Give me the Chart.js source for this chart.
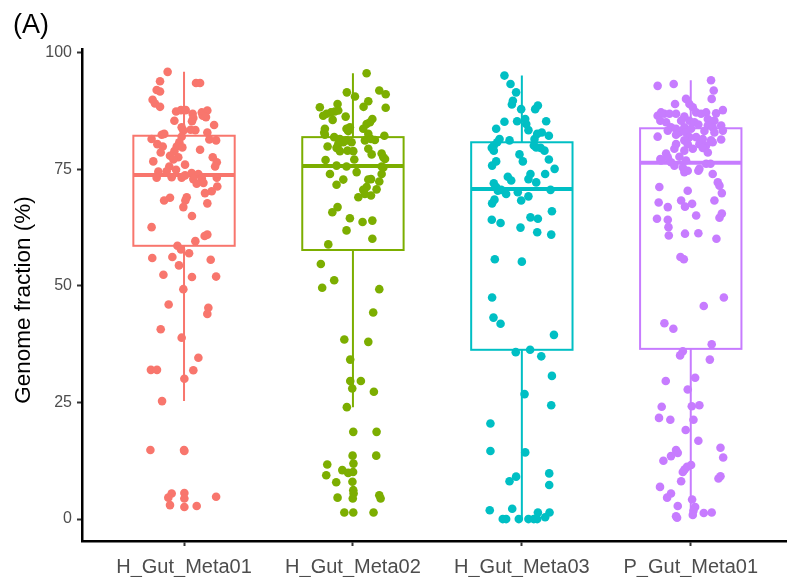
<!DOCTYPE html>
<html>
<head>
<meta charset="utf-8">
<script src="https://cdn.jsdelivr.net/npm/chart.js@4/dist/chart.umd.min.js"></script>
<style>
  html, body { margin: 0; padding: 0; background: #ffffff; }
  #wrap { width: 791px; height: 577px; }
</style>
</head>
<body>
<div id="wrap"><canvas id="chart" width="791" height="577"></canvas></div>
<script>
// Sample groups on the x axis
const categories = ['H_Gut_Meta01', 'H_Gut_Meta02', 'H_Gut_Meta03', 'P_Gut_Meta01'];
const groupColors = ['#F8766D', '#7CAE00', '#00BFC4', '#C77CFF'];
const yTicks = [0, 25, 50, 75, 100];
const yTitle = 'Genome fraction (%)';
const panelTag = '(A)';

// Box-plot summaries per group (genome fraction, %)
const whiskerLow  = [25.3, 24.0, 0.0, 0.3];
const quartile1   = [58.6, 57.7, 36.3, 36.5];
const medians     = [73.8, 75.7, 70.8, 76.4];
const quartile3   = [82.2, 81.9, 80.8, 83.8];
const whiskerHigh = [95.9, 95.6, 95.1, 94.1];

// Individual genome fractions and their horizontal jitter
const meta01Values = [95.9, 93.9, 93.5, 93.5, 92.0, 91.7, 89.9, 89.1, 88.4, 87.4,
  87.7, 87.7, 86.9, 87.2, 87.6, 86.5, 86.2, 85.4, 86.0, 85.3,
  84.0, 84.5, 83.5, 83.4, 83.3, 81.5, 82.4, 82.6, 82.0, 82.9,
  81.4, 81.2, 80.8, 80.4, 79.9, 79.7, 79.9, 79.2, 78.6, 78.9,
  77.9, 77.6, 77.6, 76.7, 77.1, 76.5, 75.6, 76.0, 75.6, 74.9,
  74.5, 74.6, 74.2, 74.0, 73.2, 73.3, 73.2, 72.9, 73.1, 73.2,
  71.9, 72.1, 73.7, 71.3, 70.3, 69.9, 68.9, 68.3, 69.0, 68.3,
  67.7, 66.9, 65.0, 62.6, 61.0, 60.7, 59.6, 58.6, 57.8, 57.0,
  56.0, 56.2, 55.6, 54.4, 52.4, 51.9, 52.0, 49.3, 46.0, 45.3,
  44.0, 40.7, 38.9, 34.6, 32.0, 32.0, 31.9, 30.1, 25.3, 14.8,
  14.8, 14.6, 5.5, 4.6, 3.0, 5.6, 4.4, 2.6, 2.8, 4.8];
const meta01Jitter = [-0.097, -0.142, 0.071, 0.095, -0.162, -0.142, -0.186, -0.172, -0.142, -0.047,
  -0.018, 0.010, 0.051, 0.105, 0.138, 0.111, 0.130, -0.057, 0.055, 0.047,
  -0.014, 0.178, 0.039, 0.067, -0.004, -0.192, -0.132, -0.117, -0.014, 0.138,
  0.150, 0.190, -0.028, -0.158, -0.043, -0.010, -0.126, 0.095, -0.138, -0.057,
  -0.083, -0.034, 0.170, -0.182, -0.063, 0.194, 0.184, 0.006, -0.087, -0.047,
  -0.152, -0.103, 0.045, 0.085, -0.162, -0.073, -0.014, 0.055, 0.105, 0.194,
  0.075, 0.115, 0.006, 0.197, 0.164, 0.124, -0.083, -0.118, 0.016, 0.008,
  0.138, -0.004, 0.047, -0.192, 0.138, 0.122, 0.067, -0.039, -0.018, 0.030,
  -0.188, -0.069, 0.158, -0.030, -0.122, 0.047, 0.190, -0.004, -0.091, 0.144,
  0.138, -0.138, -0.014, 0.085, -0.196, -0.160, 0.055, 0.002, -0.130, -0.199,
  0.000, 0.002, -0.073, -0.093, -0.083, 0.002, 0.002, 0.002, 0.075, 0.190];

const meta02Values = [95.6, 91.5, 90.6, 91.9, 91.1, 89.6, 88.4, 88.3, 89.0, 88.2,
  87.4, 87.2, 86.9, 86.5, 87.6, 86.3, 85.8, 85.1, 85.6, 84.7,
  84.0, 83.7, 83.7, 82.9, 83.7, 83.2, 82.6, 82.2, 81.9, 81.5,
  82.4, 81.2, 81.5, 81.3, 80.8, 81.2, 79.9, 80.4, 79.6, 80.8,
  78.9, 79.0, 78.9, 79.4, 78.2, 78.4, 77.6, 77.2, 77.0, 77.1,
  75.8, 75.6, 75.6, 74.0, 74.4, 75.4, 74.0, 72.8, 71.7, 72.8,
  72.9, 72.4, 71.2, 70.6, 70.7, 69.0, 69.7, 69.4, 66.9, 65.8,
  64.5, 63.7, 64.0, 61.9, 60.1, 58.9, 54.7, 51.2, 49.6, 49.3,
  44.3, 38.5, 38.0, 34.2, 29.6, 29.6, 28.0, 27.3, 24.0, 18.7,
  18.7, 13.6, 13.6, 11.7, 11.9, 9.4, 10.5, 9.9, 10.1, 7.9,
  8.0, 6.2, 4.6, 5.5, 4.4, 5.1, 4.4, 1.4, 1.4, 1.4];
const meta02Jitter = [0.081, -0.036, 0.012, 0.156, 0.194, 0.091, 0.063, -0.196, -0.091, 0.194,
  -0.107, -0.130, -0.156, -0.176, -0.087, -0.043, 0.115, 0.101, -0.120, 0.081,
  -0.018, -0.038, -0.166, -0.170, 0.061, -0.028, 0.091, 0.186, -0.111, -0.077,
  -0.166, 0.071, 0.107, 0.130, -0.008, -0.038, -0.150, -0.087, -0.097, -0.057,
  -0.077, -0.032, 0.002, 0.091, 0.111, 0.170, 0.180, 0.190, -0.162, 0.008,
  -0.097, -0.038, 0.170, -0.136, 0.022, 0.180, 0.170, -0.057, -0.097, 0.091,
  0.107, 0.156, 0.081, 0.061, 0.140, 0.032, 0.071, 0.107, -0.091, -0.122,
  -0.018, 0.057, 0.115, -0.038, 0.115, -0.146, -0.190, -0.111, -0.182, 0.156,
  0.120, -0.051, 0.091, -0.016, -0.016, 0.047, -0.004, 0.124, -0.036, 0.002,
  0.140, -0.002, 0.138, -0.152, 0.003, -0.158, -0.063, -0.028, 0.001, -0.099,
  -0.003, 0.002, -0.091, 0.004, -0.001, 0.156, 0.164, -0.051, 0.002, 0.122];

const meta03Values = [95.1, 93.3, 91.5, 89.7, 88.9, 87.9, 88.7, 87.9, 85.2, 85.3,
  85.8, 84.7, 83.4, 85.3, 83.7, 82.6, 82.9, 82.2, 81.5, 81.5,
  80.8, 80.1, 79.6, 81.2, 79.0, 79.7, 79.6, 79.0, 80.1, 78.2,
  76.7, 77.1, 76.7, 75.8, 75.1, 73.4, 72.6, 74.0, 72.9, 72.2,
  74.0, 72.0, 71.2, 70.6, 69.7, 70.1, 69.2, 70.6, 70.4, 68.5,
  67.7, 68.3, 66.0, 64.2, 63.5, 64.7, 64.4, 62.5, 61.5, 61.0,
  55.7, 55.2, 47.5, 43.2, 41.9, 39.5, 35.8, 36.3, 34.9, 30.7,
  26.8, 24.4, 20.5, 14.6, 14.3, 9.1, 8.1, 9.8, 7.3, 1.9,
  2.2, 0.0, 0.0, 0.0, 0.0, 0.0, 1.4, 0.0, 0.4, 1.4];
const meta03Jitter = [-0.103, -0.067, -0.034, -0.053, -0.059, -0.004, 0.095, 0.079, -0.103, -0.028,
  0.020, 0.026, 0.039, 0.144, -0.152, 0.091, 0.118, 0.160, 0.075, -0.132,
  -0.146, -0.166, -0.178, -0.073, -0.166, 0.085, 0.111, 0.134, 0.071, -0.014,
  0.006, 0.160, -0.152, -0.176, 0.194, -0.083, -0.063, 0.051, 0.039, 0.085,
  0.138, -0.166, -0.152, -0.122, -0.093, -0.024, 0.039, 0.170, -0.142, -0.162,
  -0.176, -0.004, 0.178, -0.178, -0.126, 0.051, 0.095, -0.008, 0.091, 0.174,
  -0.160, 0.000, -0.176, -0.168, -0.126, 0.190, -0.036, 0.049, 0.115, 0.178,
  0.016, 0.174, -0.186, -0.186, 0.020, -0.034, -0.073, 0.162, 0.162, -0.190,
  -0.057, -0.113, -0.093, -0.018, 0.039, 0.071, 0.095, 0.091, 0.138, 0.164];

const pMeta01Values = [92.9, 93.3, 94.1, 91.9, 90.1, 90.1, 89.0, 89.0, 88.3, 87.2,
  86.5, 86.9, 86.9, 86.9, 86.3, 87.2, 86.9, 87.2, 87.0, 87.7,
  85.4, 85.1, 85.4, 85.4, 85.1, 85.8, 85.3, 85.4, 84.0, 83.7,
  84.0, 83.7, 84.6, 84.4, 84.0, 84.4, 83.3, 83.3, 82.9, 82.9,
  83.2, 82.9, 82.0, 82.4, 81.9, 81.9, 81.5, 81.2, 81.4, 81.2,
  80.4, 80.4, 80.4, 80.1, 80.8, 79.4, 79.0, 79.4, 79.6, 78.6,
  78.4, 77.2, 77.6, 77.7, 76.9, 76.5, 76.9, 75.8, 75.4, 74.7,
  75.1, 76.2, 76.2, 74.4, 74.7, 74.0, 72.2, 71.5, 71.2, 70.4,
  69.9, 67.9, 68.3, 67.0, 67.6, 68.3, 66.9, 64.4, 64.2, 62.6,
  65.1, 65.5, 64.6, 60.8, 61.2, 61.3, 60.1, 56.2, 55.7, 47.5,
  45.7, 42.0, 40.8, 37.5, 36.0, 35.1, 34.2, 29.6, 30.3, 27.8,
  24.1, 24.2, 24.4, 21.7, 21.3, 21.3, 19.1, 16.8, 14.8, 14.2,
  13.5, 12.5, 15.3, 13.2, 11.6, 11.2, 10.6, 10.1, 8.1, 8.7,
  9.2, 6.9, 5.5, 4.6, 2.8, 4.2, 2.6, 1.8, 0.9, 1.3,
  1.4, 0.6, 0.3];
const pMeta01Jitter = [-0.196, -0.101, 0.120, 0.136, 0.124, -0.028, -0.008, -0.093, 0.012, -0.176,
  -0.196, -0.156, -0.126, -0.087, -0.038, 0.032, 0.061, 0.091, 0.150, 0.190,
  -0.180, -0.146, -0.057, -0.008, 0.022, 0.101, 0.117, 0.140, -0.117, -0.087,
  -0.038, 0.002, 0.045, 0.101, 0.130, 0.180, 0.190, -0.136, -0.067, -0.028,
  0.081, 0.140, -0.196, -0.087, -0.008, 0.032, 0.071, 0.120, 0.180, -0.038,
  -0.087, -0.018, 0.051, 0.091, 0.130, -0.097, -0.038, 0.012, 0.071, 0.101,
  -0.146, -0.180, -0.136, -0.067, -0.028, -0.117, -0.176, -0.097, -0.047, -0.018,
  0.051, 0.091, 0.117, -0.038, 0.045, 0.130, 0.160, 0.170, -0.186, -0.018,
  0.184, -0.190, -0.057, -0.034, 0.008, 0.140, -0.136, -0.200, -0.136, -0.132,
  0.032, 0.184, 0.170, -0.130, -0.034, 0.045, 0.152, -0.061, -0.041, 0.196,
  0.077, -0.156, -0.103, 0.124, -0.047, -0.063, 0.113, -0.148, 0.026, -0.018,
  -0.172, 0.006, 0.051, -0.188, -0.121, 0.016, -0.030, 0.045, -0.087, -0.077,
  -0.117, -0.162, 0.176, 0.192, 0.002, -0.022, -0.037, -0.047, -0.057, 0.164,
  0.176, -0.182, -0.117, -0.140, -0.077, 0.008, 0.026, 0.016, 0.012, 0.077,
  0.124, -0.087, -0.081];

const groupValues = [meta01Values, meta02Values, meta03Values, pMeta01Values];
const groupJitter = [meta01Jitter, meta02Jitter, meta03Jitter, pMeta01Jitter];

const BOX_HALF_WIDTH = 0.3;
const FONT_FAMILY = '"Liberation Sans", Arial, sans-serif';

const datasets = categories.map((name, i) => ({
  label: name,
  data: groupValues[i].map((v, k) => ({ x: i + 1 + groupJitter[i][k], y: v })),
  backgroundColor: groupColors[i],
  borderWidth: 0,
  pointRadius: 4.3,
  pointHoverRadius: 4.3
}));

// Draws box, median and whiskers for each group under the points
const boxPlotPlugin = {
  id: 'boxPlot',
  beforeDatasetsDraw(chart) {
    const { ctx, scales: { x, y } } = chart;
    ctx.save();
    categories.forEach((name, i) => {
      const c = i + 1;
      const cx = x.getPixelForValue(c);
      const left = x.getPixelForValue(c - BOX_HALF_WIDTH);
      const right = x.getPixelForValue(c + BOX_HALF_WIDTH);
      const yLow = y.getPixelForValue(whiskerLow[i]);
      const yQ1 = y.getPixelForValue(quartile1[i]);
      const yMed = y.getPixelForValue(medians[i]);
      const yQ3 = y.getPixelForValue(quartile3[i]);
      const yHigh = y.getPixelForValue(whiskerHigh[i]);
      ctx.strokeStyle = groupColors[i];
      ctx.lineWidth = 2;
      ctx.beginPath();
      ctx.moveTo(cx, yHigh); ctx.lineTo(cx, yQ3);
      ctx.moveTo(cx, yQ1); ctx.lineTo(cx, yLow);
      ctx.stroke();
      ctx.strokeRect(left, yQ3, right - left, yQ1 - yQ3);
      ctx.lineWidth = 4;
      ctx.beginPath();
      ctx.moveTo(left, yMed); ctx.lineTo(right, yMed);
      ctx.stroke();
    });
    ctx.restore();
  }
};

// Panel tag in the top-left corner and the rotated y-axis title
const labelsPlugin = {
  id: 'labels',
  afterDraw(chart) {
    const { ctx } = chart;
    ctx.save();
    ctx.fillStyle = '#000000';
    ctx.font = '27px ' + FONT_FAMILY;
    ctx.textBaseline = 'alphabetic';
    ctx.textAlign = 'left';
    ctx.fillText(panelTag, 13, 33);
    ctx.translate(24, 300);
    ctx.rotate(-Math.PI / 2);
    ctx.font = '22.5px ' + FONT_FAMILY;
    ctx.textAlign = 'center';
    ctx.textBaseline = 'middle';
    ctx.fillText(yTitle, 0, 0);
    ctx.restore();
  }
};

new Chart(document.getElementById('chart'), {
  type: 'scatter',
  data: { datasets },
  plugins: [boxPlotPlugin, labelsPlugin],
  options: {
    responsive: false,
    devicePixelRatio: 1,
    animation: false,
    layout: { padding: { top: 49, right: 0, bottom: 0, left: 0 } },
    plugins: { legend: { display: false }, tooltip: { enabled: false } },
    events: [],
    scales: {
      x: {
        type: 'linear',
        min: 0.396,
        max: 4.568,
        afterFit(scale) { scale.height = 36; },
        afterBuildTicks(scale) { scale.ticks = categories.map((c, i) => ({ value: i + 1 })); },
        ticks: {
          autoSkip: false,
          maxRotation: 0,
          padding: 9,
          color: '#4D4D4D',
          font: { family: FONT_FAMILY, size: 20 },
          callback: (v) => categories[Math.round(v) - 1]
        },
        grid: { display: true, drawOnChartArea: false, drawTicks: true, tickLength: 5, tickColor: '#333333', tickWidth: 2 },
        border: { display: true, color: '#000000', width: 2.5 }
      },
      y: {
        min: -4.7,
        max: 100.8,
        afterFit(scale) { scale.width = 82; },
        afterBuildTicks(scale) { scale.ticks = yTicks.map(v => ({ value: v })); },
        ticks: {
          padding: 5,
          color: '#4D4D4D',
          font: { family: FONT_FAMILY, size: 16 },
          callback: (v) => String(v)
        },
        grid: { display: true, drawOnChartArea: false, drawTicks: true, tickLength: 5, tickColor: '#333333', tickWidth: 2 },
        border: { display: true, color: '#000000', width: 2.5 }
      }
    }
  }
});
</script>
</body>
</html>
